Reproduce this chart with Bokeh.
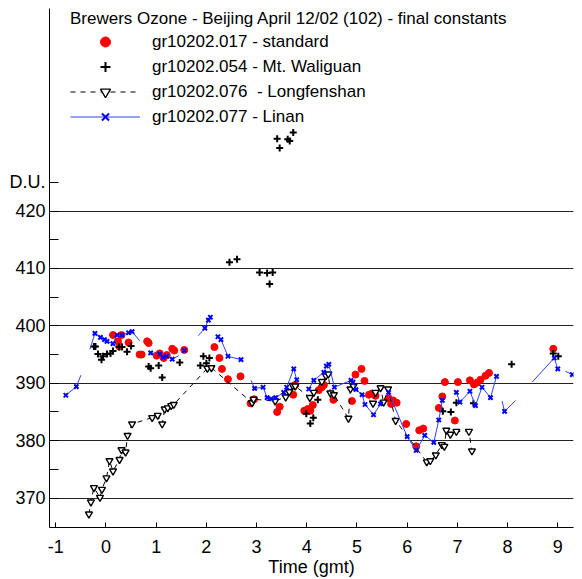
from bokeh.plotting import figure
from bokeh.models import FixedTicker, Range1d, Legend, LegendItem
from bokeh.embed import file_html
from bokeh.resources import INLINE

NAN = float("nan")

title_text = "Brewers Ozone - Beijing April 12/02 (102) - final constants"
x_label = "Time (gmt)"
x_ticks = [-1, 0, 1, 2, 3, 4, 5, 6, 7, 8, 9]
y_major = [370, 380, 390, 400, 410, 420]
y_unit_tick = 425
y_unit_label = "D.U."
y_minor = [375, 385, 395, 405, 415]

names = ["gr10202.017 - standard", "gr10202.054 - Mt. Waliguan",
         "gr10202.076  - Longfenshan", "gr10202.077 - Linan"]

# standard (red dots)
std_t = [0.14, 0.24, 0.27, 0.31, 0.45, 0.67, 0.71, 0.82, 0.85, 1.01, 1.07, 1.15, 1.21, 1.32,
         1.36, 1.56, 2.16, 2.26, 2.31, 2.43, 2.68, 2.88, 2.95, 3.41, 3.46, 3.73, 3.77, 3.95,
         4.02, 4.07, 4.12, 4.24, 4.30, 4.34, 4.53, 4.90, 4.97, 5.09, 5.15, 5.24, 5.30, 5.37,
         5.63, 5.68, 5.72, 5.79, 5.98, 6.18, 6.24, 6.32, 6.63, 6.70, 6.75, 6.95, 7.01, 7.25,
         7.33, 7.39, 7.46, 7.56, 7.63, 8.91]
std_v = [398.4, 397.3, 396.4, 398.4, 397.1, 395.0, 395.0, 397.3, 397.0, 394.8, 395.2, 394.4, 394.9, 396.0,
         395.7, 395.8, 396.3, 394.4, 392.5, 390.7, 391.2, 386.5, 387.2, 385.0, 385.9, 388.0, 389.7, 385.2,
         385.5, 385.2, 386.2, 388.8, 389.3, 389.7, 387.1, 386.9, 391.5, 392.5, 390.4, 388.0, 388.2, 387.8,
         387.4, 386.4, 387.0, 386.6, 382.9, 379.0, 381.8, 382.1, 385.7, 387.7, 390.2, 383.5, 390.2, 390.5,
         389.8, 390.1, 390.6, 391.3, 391.8, 396.0]

# Mt. Waliguan (black crosses)
wal_t = [-0.24, -0.21, -0.16, -0.09, -0.06, 0.02, 0.09, 0.14, 0.26, 0.32, 0.42, 0.50, 0.85, 0.89,
         1.05, 1.12, 1.47, 1.88, 1.94, 2.00, 2.06, 2.46, 2.61, 3.06, 3.21, 3.26, 3.32, 3.41,
         3.46, 3.62, 3.66, 3.73, 3.99, 4.07, 4.13, 4.22, 6.71, 6.87, 6.98, 7.32, 8.08, 8.91, 9.01]
wal_v = [396.4, 396.4, 395.1, 394.1, 394.7, 395.1, 395.2, 395.6, 396.3, 396.3, 395.5, 396.5, 392.9, 392.6,
         393.1, 391.0, 393.6, 393.1, 394.7, 393.5, 394.4, 411.1, 411.6, 409.3, 409.2, 407.3, 409.3, 432.6,
         431.0, 432.5, 432.2, 433.7, 384.7, 383.0, 384.0, 387.1, 385.1, 385.0, 386.6, 386.5, 393.3, 395.2, 394.7]

# Longfenshan (open triangles, dashed line)
lfs_t = [-0.34, -0.30, -0.24, -0.12, -0.08, 0.01, 0.07, 0.14, 0.27, 0.31, 0.39, 0.43, 0.52, 0.92,
         1.03, 1.12, 1.17, 1.23, 1.30, 1.35, 2.02, 2.10, 2.91, 2.94, 3.37, 3.58, 3.65, 3.72,
         3.77, 4.06, 4.14, 4.30, 4.38, 4.43, 4.47, 4.54, 4.83, 4.87, 4.93, 5.32, 5.37, 5.47,
         5.53, 5.62, 5.77, 6.39, 6.46, 6.57, 6.69, 6.74, 6.78, 6.86, 6.98, 7.23, 7.29]
lfs_v = [367.2, 369.3, 371.8, 370.1, 371.5, 373.5, 376.5, 374.7, 376.7, 378.4, 378.0, 380.9, 382.9, 384.0,
         384.4, 382.9, 385.5, 385.7, 386.1, 386.3, 392.6, 392.7, 386.6, 387.2, 386.9, 387.6, 388.5, 389.6,
         389.5, 387.5, 388.4, 390.3, 391.3, 391.6, 388.3, 388.0, 383.9, 389.0, 389.5, 386.5, 388.4, 389.2,
         386.7, 389.0, 383.5, 376.3, 376.5, 377.5, 379.3, 379.0, 381.8, 381.1, 381.6, 381.6, 378.2]

# Linan (blue x, thin line); NaN = break in line, mark 0 = line end without marker
lin_t = [-0.80, -0.59, -0.50, NAN,
         -0.32, -0.22, -0.11, -0.03, 0.02, 0.14, 0.22, 0.32, 0.45, 0.52, 0.67, NAN,
         0.89, 1.07, 1.14, 1.21, 1.32, 1.45, NAN,
         1.56, NAN,
         1.84, 1.97, 2.04, 2.08, NAN,
         2.23, 2.29, 2.43, 2.69, NAN,
         2.89, 2.96, 3.13, 3.21, 3.29, 3.38, 3.54, 3.60, 3.74, 3.80, NAN,
         4.04, 4.14, 4.34, 4.39, 4.44, 4.55, 4.88, 4.92, 4.98, 5.10, 5.16, 5.33, 5.47, NAN,
         5.63, 6.00, 6.18, 6.35, 6.53, 6.63, 6.70, NAN,
         6.98, 7.05, 7.25, 7.36, 7.49, 7.66, 7.78, NAN,
         7.89, 7.94, 8.16, NAN,
         8.49, 8.93, 9.00, NAN,
         9.15, 9.29]
lin_v = [387.9, 389.4, 391.4, NAN,
         395.9, 398.7, 398.0, 397.6, 397.3, 396.9, 398.4, 398.4, 398.8, 399.0, 397.4, NAN,
         395.3, 395.1, 394.5, 394.7, 394.2, 394.8, NAN,
         395.7, NAN,
         398.3, 399.6, 401.0, 401.5, NAN,
         398.1, 397.6, 394.7, 394.1, NAN,
         390.5, 389.1, 389.3, 387.5, 387.3, 387.5, 388.4, 389.3, 392.5, 390.6, NAN,
         389.0, 390.5, 391.9, 393.0, 393.3, 389.3, 390.5, 390.2, 388.9, 388.0, 386.3, 384.5, 386.4, NAN,
         388.4, 380.7, 378.3, 380.9, 379.7, 383.6, 387.0, NAN,
         388.4, 386.7, 388.6, 386.1, 389.3, 387.5, 391.2, NAN,
         386.9, 385.1, 387.0, NAN,
         390.2, 394.4, 392.5, NAN,
         392.1, 391.5]
lin_mark = [1, 1, 0, 0,
            0, 1, 1, 1, 1, 1, 1, 1, 1, 1, 0, 0,
            1, 1, 1, 1, 1, 0, 0,
            1, 0,
            0, 1, 1, 1, 0,
            1, 1, 1, 1, 0,
            0, 1, 1, 1, 1, 1, 1, 1, 1, 1, 0,
            1, 1, 1, 1, 1, 1, 1, 1, 1, 1, 1, 1, 1, 0,
            1, 1, 1, 1, 1, 1, 1, 0,
            1, 1, 1, 1, 1, 1, 1, 0,
            0, 1, 0, 0,
            0, 1, 1, 0,
            0, 1]

lin_mt = [t for t, m in zip(lin_t, lin_mark) if m == 1]
lin_mv = [v for v, m in zip(lin_v, lin_mark) if m == 1]

FONT = "Liberation Sans"

p = figure(width=582, height=579, x_range=Range1d(-1.125, 9.313), y_range=Range1d(364.86, 455.3),
           output_backend="svg", toolbar_location=None,
           min_border_left=49, min_border_right=9, min_border_top=8, min_border_bottom=52)
p.outline_line_color = None
p.background_fill_color = "white"
p.border_fill_color = "white"

p.xgrid.visible = False
p.ygrid.ticker = FixedTicker(ticks=y_major)
p.ygrid.grid_line_color = "#222222"
p.ygrid.grid_line_width = 1

ya = p.yaxis[0]
ya.ticker = FixedTicker(ticks=y_major + [y_unit_tick], minor_ticks=y_minor)
ya.major_label_overrides = {y_unit_tick: y_unit_label}
ya.major_tick_in = 9
ya.major_tick_out = 0
ya.minor_tick_in = 9
ya.minor_tick_out = 0
ya.major_label_standoff = 4
ya.major_label_text_font = FONT
ya.major_label_text_font_size = "18px"
ya.major_label_text_color = "black"
ya.axis_line_color = "black"
ya.major_tick_line_color = "black"
ya.minor_tick_line_color = "black"

xa = p.xaxis[0]
xa.ticker = FixedTicker(ticks=x_ticks, minor_ticks=[])
xa.major_label_overrides = {t: str(t) for t in x_ticks}
xa.major_tick_in = 5
xa.major_tick_out = 0
xa.minor_tick_in = 0
xa.minor_tick_out = 0
xa.major_label_standoff = 12
xa.major_label_text_font = FONT
xa.major_label_text_font_size = "18px"
xa.major_label_text_color = "black"
xa.axis_label = x_label
xa.axis_label_text_font = FONT
xa.axis_label_text_font_size = "18px"
xa.axis_label_text_font_style = "normal"
xa.axis_label_text_color = "black"
xa.axis_label_standoff = 1
xa.axis_line_color = "black"
xa.major_tick_line_color = "black"

r_std = p.scatter(std_t, std_v, marker="circle", size=7, fill_color="#ff0000", line_color="#ff0000",
                  line_width=1)
r_wal = p.scatter(wal_t, wal_v, marker="cross", size=7, line_color="black", line_width=2)
r_lfl = p.line(lfs_t, lfs_v, line_color="black", line_dash="5 5", line_width=1)
r_lfp = p.scatter(lfs_t, lfs_v, marker="inverted_triangle", size=7, line_color="black",
                  fill_color="white", line_width=1.4)
r_lnl = p.line(lin_t, lin_v, line_color="#3040ff", line_width=1)
r_lnp = p.scatter(lin_mt, lin_mv, marker="x", size=6, line_color="#0000ff", line_width=2)

legend = Legend(items=[LegendItem(label=names[0], renderers=[r_std]),
                       LegendItem(label=names[1], renderers=[r_wal]),
                       LegendItem(label=names[2], renderers=[r_lfl, r_lfp]),
                       LegendItem(label=names[3], renderers=[r_lnl, r_lnp])],
                location=(21, 398), glyph_width=70, glyph_height=25, spacing=0,
                padding=0, margin=0, label_standoff=12, label_height=20,
                label_text_font=FONT, label_text_font_size="17px", label_text_color="black",
                title=title_text, title_text_font=FONT, title_text_font_size="17px",
                title_text_font_style="normal", title_text_color="black", title_standoff=0,
                border_line_color=None, background_fill_alpha=0)
p.add_layout(legend)

open("out.html", "w").write(file_html(p, INLINE))
